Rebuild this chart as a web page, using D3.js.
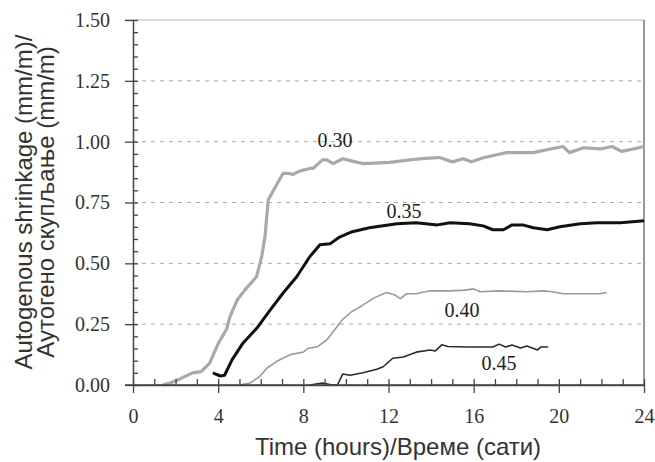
<!DOCTYPE html>
<html>
<head>
<meta charset="utf-8">
<script src="https://cdn.jsdelivr.net/npm/d3@7"></script>
<style>
  body { margin: 0; background: #fff; }
  #grafico { width: 655px; height: 462px; }
</style>
</head>
<body>
<div id="grafico"></div>
<script>
// Dados: [tempo (h), retração (mm/m)]
const curva030 = [[1.4,0],[1.8,0.01],[2.2,0.025],[2.8,0.05],[3.2,0.055],[3.6,0.09],[4.0,0.17],[4.4,0.23],[4.55,0.28],[4.9,0.35],[5.25,0.39],[5.8,0.445],[6.05,0.53],[6.2,0.61],[6.35,0.76],[6.6,0.8],[7.05,0.87],[7.3,0.87],[7.5,0.865],[7.85,0.88],[8.3,0.89],[8.45,0.89],[8.9,0.925],[9.1,0.925],[9.4,0.91],[9.85,0.93],[10.3,0.92],[10.8,0.91],[12.05,0.915],[13.0,0.925],[13.6,0.93],[14.4,0.935],[15.0,0.917],[15.5,0.93],[15.9,0.917],[16.45,0.934],[17.55,0.955],[18.8,0.955],[19.6,0.97],[20.2,0.98],[20.5,0.955],[21.15,0.975],[21.95,0.97],[22.5,0.98],[22.95,0.96],[23.5,0.97],[24,0.98]];
const curva035 = [[3.75,0.05],[4.1,0.037],[4.3,0.04],[4.65,0.103],[5.17,0.173],[5.81,0.233],[6.43,0.307],[7.05,0.378],[7.68,0.444],[8.3,0.527],[8.78,0.576],[9.25,0.58],[9.7,0.608],[10.3,0.63],[11.1,0.646],[12.4,0.663],[13.3,0.667],[14.3,0.658],[14.9,0.667],[15.8,0.663],[16.45,0.654],[16.9,0.638],[17.4,0.638],[17.8,0.658],[18.3,0.658],[18.8,0.646],[19.45,0.638],[20.05,0.65],[21.0,0.663],[21.8,0.667],[22.9,0.667],[24,0.675]];
const curva040 = [[5.0,0],[5.5,0.008],[5.95,0.035],[6.3,0.07],[6.8,0.1],[7.4,0.125],[8.0,0.135],[8.2,0.15],[8.65,0.157],[9.1,0.185],[9.5,0.23],[9.85,0.27],[10.25,0.3],[10.65,0.32],[11.3,0.357],[11.9,0.38],[12.3,0.37],[12.55,0.355],[12.85,0.375],[13.3,0.375],[13.95,0.387],[14.9,0.387],[15.6,0.39],[16.0,0.395],[16.3,0.383],[17.2,0.387],[18.5,0.383],[19.25,0.387],[19.7,0.383],[20.2,0.375],[20.85,0.375],[21.9,0.375],[22.25,0.38]];
const curva045 = [[8.3,0],[8.9,0.008],[9.35,0],[9.6,0],[9.85,0.045],[10.2,0.04],[10.8,0.05],[11.45,0.065],[11.75,0.075],[12.2,0.11],[12.7,0.115],[13.3,0.135],[13.95,0.144],[14.2,0.14],[14.5,0.165],[14.8,0.158],[15.7,0.156],[16.9,0.156],[17.2,0.168],[17.5,0.156],[17.8,0.164],[18.2,0.152],[18.5,0.16],[19.0,0.144],[19.15,0.156],[19.5,0.156]];

// Rótulos das curvas (w/c) e onde ficam, em unidades dos eixos
const rotulos = ['0.30', '0.35', '0.40', '0.45'];
const rotuloPos = [[9.49, 0.98], [12.73, 0.687], [15.45, 0.28], [17.19, 0.062]];

const ticksX = [0, 4, 8, 12, 16, 20, 24];
const ticksY = [0, 0.25, 0.5, 0.75, 1.0, 1.25, 1.5];

let Grafico = (() => {

    const desenhar = () => {
        const largura = 655, altura = 462;
        const margin = { top: 20, right: 11, bottom: 77, left: 133 };

        const svg = d3.select('#grafico')
            .append('svg')
            .attr('width', largura)
            .attr('height', altura);

        const x = d3.scaleLinear().domain([0, 24]).range([margin.left, largura - margin.right]);
        const y = d3.scaleLinear().domain([0, 1.5]).range([altura - margin.bottom, margin.top]);

        // Linhas de grade tracejadas
        svg.append('g')
            .selectAll('line')
            .data(ticksY.filter(d => d > 0 && d < 1.5))
            .enter()
            .append('line')
            .attr('x1', x(0)).attr('x2', x(24))
            .attr('y1', d => y(d)).attr('y2', d => y(d))
            .attr('stroke', '#aaa')
            .attr('stroke-width', 1)
            .attr('stroke-dasharray', '4,5');

        // Moldura: topo claro, lado direito escuro
        svg.append('line')
            .attr('x1', x(0) - 8).attr('x2', x(24))
            .attr('y1', y(1.5)).attr('y2', y(1.5))
            .attr('stroke', '#ccc').attr('stroke-width', 1.5);
        svg.append('line')
            .attr('x1', x(24)).attr('x2', x(24))
            .attr('y1', y(1.5)).attr('y2', y(0))
            .attr('stroke', '#777').attr('stroke-width', 1.5);

        // Curvas
        const linha = d3.line().x(d => x(d[0])).y(d => y(d[1]));
        const series = [
            { dados: curva045, cor: '#2a2a2a', esp: 1.6 },
            { dados: curva040, cor: '#9a9a9a', esp: 1.6 },
            { dados: curva035, cor: '#111', esp: 3 },
            { dados: curva030, cor: '#a9a9a9', esp: 3.2 }
        ];
        svg.append('g')
            .selectAll('path')
            .data(series)
            .enter()
            .append('path')
            .attr('d', d => linha(d.dados))
            .attr('fill', 'none')
            .attr('stroke', d => d.cor)
            .attr('stroke-width', d => d.esp)
            .attr('stroke-linejoin', 'round');

        // Eixo Y: ticks principais para fora, secundários para dentro
        const eixoY = svg.append('g')
            .attr('transform', `translate(${x(0)}, 0)`)
            .call(d3.axisLeft(y).tickValues(ticksY).tickFormat(d3.format('.2f'))
                .tickSize(8).tickSizeOuter(0).tickPadding(15));
        svg.append('g')
            .attr('transform', `translate(${x(0)}, 0)`)
            .call(d3.axisRight(y).tickValues(d3.range(0, 1.501, 0.05)).tickFormat('')
                .tickSize(5).tickSizeOuter(0))
            .call(g => g.select('.domain').remove());

        // Eixo X
        const eixoX = svg.append('g')
            .attr('transform', `translate(0, ${y(0)})`)
            .call(d3.axisBottom(x).tickValues(ticksX).tickSize(8).tickSizeOuter(0).tickPadding(16));
        svg.append('g')
            .attr('transform', `translate(0, ${y(0)})`)
            .call(d3.axisTop(x).tickValues(d3.range(0, 25, 1)).tickFormat('')
                .tickSize(6).tickSizeOuter(0))
            .call(g => g.select('.domain').remove());
        svg.append('line')
            .attr('x1', x(0) - 8).attr('x2', x(24))
            .attr('y1', y(0)).attr('y2', y(0))
            .attr('stroke', '#444').attr('stroke-width', 1.5);

        svg.selectAll('.tick line').attr('stroke', '#444').attr('stroke-width', 1.3);
        svg.selectAll('.domain').attr('stroke', '#444').attr('stroke-width', 1.5);
        [eixoX, eixoY].forEach(g => g.selectAll('text')
            .style('font-family', '"Liberation Serif", "Times New Roman", serif')
            .style('font-size', '20px')
            .attr('fill', '#333'));

        // Rótulos das curvas
        svg.append('g')
            .selectAll('text')
            .data(rotulos)
            .enter()
            .append('text')
            .attr('x', (d, i) => x(rotuloPos[i][0]))
            .attr('y', (d, i) => y(rotuloPos[i][1]))
            .attr('text-anchor', 'middle')
            .style('font-family', '"Liberation Serif", "Times New Roman", serif')
            .style('font-size', '20px')
            .attr('fill', '#222')
            .text(d => d);

        // Títulos dos eixos
        svg.append('text')
            .attr('x', 398)
            .attr('y', 455)
            .attr('text-anchor', 'middle')
            .style('font-family', '"Liberation Sans", Arial, sans-serif')
            .style('font-size', '24px')
            .attr('fill', '#333')
            .text('Time (hours)/Време (сати)');

        const tituloY = svg.append('text')
            .attr('transform', 'translate(0, 202) rotate(-90)')
            .attr('text-anchor', 'middle')
            .style('font-family', '"Liberation Sans", Arial, sans-serif')
            .style('font-size', '24px')
            .attr('fill', '#333');
        tituloY.append('tspan').attr('x', 0).attr('y', 32).text('Autogenous shrinkage (mm/m)/');
        tituloY.append('tspan').attr('x', 0).attr('y', 54).text('Аутогено скупљање (mm/m)');
    };

    return { desenhar };
})();

Grafico.desenhar();
</script>
</body>
</html>
